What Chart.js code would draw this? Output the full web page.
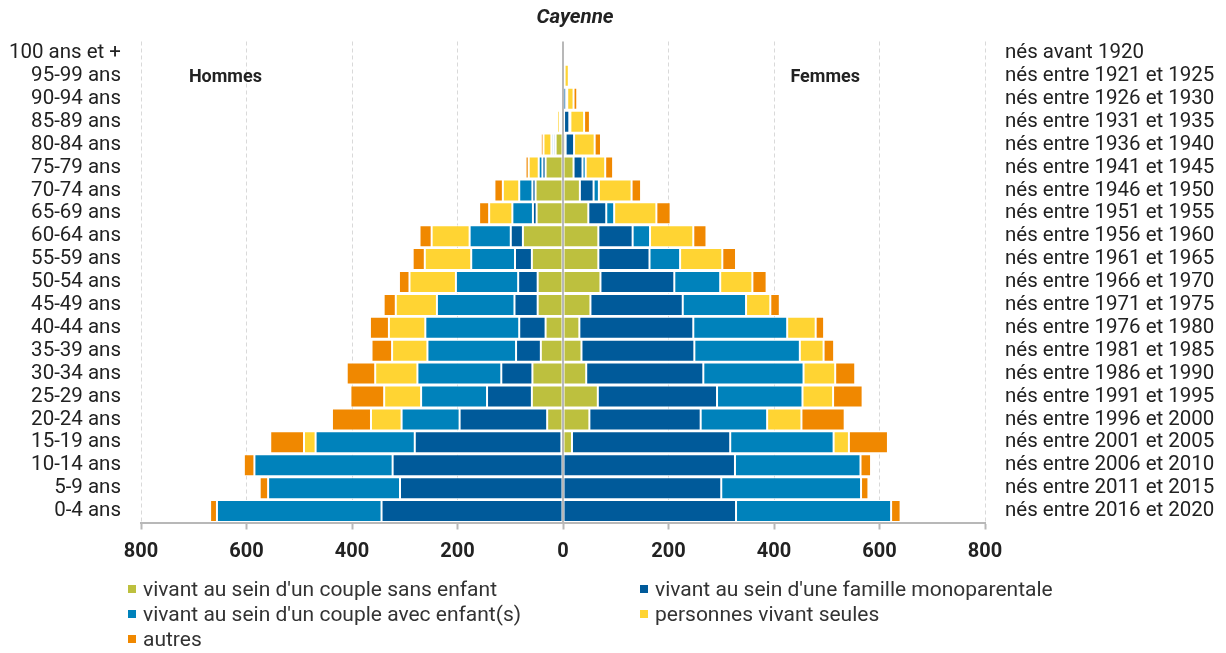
<!DOCTYPE html>
<html lang="fr">
<head>
<meta charset="utf-8">
<title>Cayenne</title>
<script src="https://cdn.jsdelivr.net/npm/chart.js@4.4.1/dist/chart.umd.min.js"></script>
<style>
  body { margin: 0; background: #fff; font-family: Roboto, sans-serif; }
  #wrap { position: relative; width: 1226px; height: 653px; }
  #legend {
    position: absolute; left: 128px; top: 576px;
    display: grid; grid-template-columns: 512px auto;
    font-size: 21px; color: #333;
  }
  .item { display: flex; align-items: center; height: 25px; white-space: nowrap; }
  .sw { width: 8px; height: 8px; margin-right: 7px; flex: none; }
</style>
</head>
<body>
<div id="wrap">
  <canvas id="pyramid" width="1226" height="653"></canvas>
  <div id="legend"></div>
</div>
<script>
const ages = ["100 ans et +", "95-99 ans", "90-94 ans", "85-89 ans", "80-84 ans", "75-79 ans",
  "70-74 ans", "65-69 ans", "60-64 ans", "55-59 ans", "50-54 ans", "45-49 ans", "40-44 ans",
  "35-39 ans", "30-34 ans", "25-29 ans", "20-24 ans", "15-19 ans", "10-14 ans", "5-9 ans", "0-4 ans"];
const births = ["nés avant 1920", "nés entre 1921 et 1925", "nés entre 1926 et 1930",
  "nés entre 1931 et 1935", "nés entre 1936 et 1940", "nés entre 1941 et 1945",
  "nés entre 1946 et 1950", "nés entre 1951 et 1955", "nés entre 1956 et 1960",
  "nés entre 1961 et 1965", "nés entre 1966 et 1970", "nés entre 1971 et 1975",
  "nés entre 1976 et 1980", "nés entre 1981 et 1985", "nés entre 1986 et 1990",
  "nés entre 1991 et 1995", "nés entre 1996 et 2000", "nés entre 2001 et 2005",
  "nés entre 2006 et 2010", "nés entre 2011 et 2015", "nés entre 2016 et 2020"];
const xTicks = [-800, -600, -400, -200, 0, 200, 400, 600, 800];

const seriesNames = ["vivant au sein d'un couple sans enfant", "vivant au sein d'une famille monoparentale",
  "vivant au sein d'un couple avec enfant(s)", "personnes vivant seules", "autres"];
const colors = ["#bdc03e", "#005a9a", "#0082bb", "#ffd433", "#f08800"];

// hommes (effectifs, dessinés à gauche)
const menCoupleNoChild = [0, 0, 0, 4, 14, 33, 52, 50, 76, 59, 48, 48, 33, 42, 58, 59, 30, 3, 0, 0, 0];
const menSingleParent = [0, 0, 0, 1, 4, 6, 6, 7, 23, 32, 37, 44, 50, 47, 59, 85, 166, 278, 323, 309, 344];
const menCoupleChildren = [0, 0, 0, 1, 4, 7, 25, 39, 78, 83, 118, 147, 178, 168, 159, 125, 110, 188, 262, 250, 312];
const menAlone = [0, 0, 0, 5, 15, 19, 31, 44, 72, 88, 88, 78, 69, 67, 80, 70, 58, 22, 0, 0, 0];
const menOther = [0, 0, 0, 0, 5, 6, 16, 19, 23, 23, 20, 23, 36, 39, 54, 64, 74, 64, 20, 16, 13];

// femmes
const womenCoupleNoChild = [0, 3, 0, 2, 5, 20, 32, 48, 67, 67, 71, 52, 31, 35, 44, 66, 50, 17, 0, 0, 0];
const womenSingleParent = [0, 0, 6, 10, 16, 17, 26, 34, 65, 97, 140, 175, 216, 214, 222, 226, 211, 300, 326, 300, 328];
const womenCoupleChildren = [0, 0, 2, 2, 0, 6, 10, 15, 33, 58, 87, 120, 178, 200, 190, 162, 126, 196, 238, 265, 294];
const womenAlone = [0, 8, 12, 26, 39, 37, 62, 80, 82, 80, 61, 46, 54, 45, 60, 58, 65, 29, 0, 0, 0];
const womenOther = [0, 3, 7, 11, 12, 15, 18, 27, 25, 26, 27, 18, 16, 20, 38, 56, 82, 74, 20, 14, 18];

const menSeries = [menCoupleNoChild, menSingleParent, menCoupleChildren, menAlone, menOther];
const womenSeries = [womenCoupleNoChild, womenSingleParent, womenCoupleChildren, womenAlone, womenOther];

const barStyle = {
  stack: "pyramide",
  borderColor: "#fff",
  borderWidth: 1,
  borderSkipped: false,
  barPercentage: 0.96,
  categoryPercentage: 1
};

const datasets = [];
menSeries.forEach((values, i) => {
  datasets.push({ label: seriesNames[i], data: values.map(v => -v), backgroundColor: colors[i], ...barStyle });
});
womenSeries.forEach((values, i) => {
  datasets.push({ label: seriesNames[i], data: values, backgroundColor: colors[i], ...barStyle });
});

// ligne du zéro par-dessus les barres + libellés Hommes / Femmes + titre
const overlay = {
  id: "overlay",
  afterDatasetsDraw(chart) {
    const { ctx, chartArea, scales } = chart;
    const x0 = scales.x.getPixelForValue(0);
    ctx.save();
    ctx.strokeStyle = "#b8b8b8";
    ctx.lineWidth = 2;
    ctx.beginPath();
    ctx.moveTo(x0, chartArea.top);
    ctx.lineTo(x0, chartArea.bottom);
    ctx.stroke();

    ctx.fillStyle = "#222";
    ctx.textAlign = "center";
    ctx.textBaseline = "middle";
    ctx.font = "bold 18px Roboto";
    const ySide = scales.y.getPixelForValue(1) + 2;
    ctx.fillText("Hommes", scales.x.getPixelForValue(-640), ySide);
    ctx.fillText("Femmes", scales.x.getPixelForValue(497), ySide);
    ctx.font = "italic bold 20.5px Roboto";
    ctx.fillText("Cayenne", 575, 18);
    ctx.restore();
  }
};

const chart = new Chart(document.getElementById("pyramid"), {
  type: "bar",
  data: { labels: ages, datasets: datasets },
  plugins: [overlay],
  options: {
    indexAxis: "y",
    responsive: false,
    animation: false,
    layout: { padding: { top: 41.5, left: 0, right: 0, bottom: 0 } },
    plugins: {
      legend: { display: false },
      title: { display: false },
      tooltip: { enabled: false }
    },
    scales: {
      x: {
        stacked: true,
        min: -800,
        max: 800,
        afterBuildTicks: scale => { scale.ticks = xTicks.map(v => ({ value: v })); },
        afterFit: scale => { scale.height = 130.5; },
        grid: {
          color: ctx => (ctx.tick && ctx.tick.value === 0 ? "rgba(0,0,0,0)" : "#d9d9d9"),
          lineWidth: 1,
          tickLength: 7,
          tickColor: "#b8b8b8",
          tickWidth: 2,
          tickBorderDash: []
        },
        border: { display: true, color: "#b8b8b8", width: 2, dash: [4, 3] },
        ticks: {
          callback: v => Math.abs(v),
          color: "#222",
          padding: 10,
          font: { family: "Roboto", size: 20, weight: "bold" }
        }
      },
      y: {
        stacked: true,
        offset: true,
        afterFit: scale => { scale.width = 141; },
        grid: { display: false },
        border: { display: false },
        ticks: {
          autoSkip: false,
          padding: 12,
          color: "#222",
          font: { family: "Roboto", size: 20.5 }
        }
      },
      y2: {
        type: "category",
        labels: births,
        position: "right",
        offset: true,
        afterFit: scale => { scale.width = 241; },
        grid: { display: false },
        border: { display: false },
        ticks: {
          autoSkip: false,
          padding: 12,
          color: "#222",
          font: { family: "Roboto", size: 20.5 }
        }
      }
    }
  }
});

// légende HTML sur deux colonnes
const legend = document.getElementById("legend");
seriesNames.forEach((name, i) => {
  const item = document.createElement("div");
  item.className = "item";
  const sw = document.createElement("span");
  sw.className = "sw";
  sw.style.background = colors[i];
  item.appendChild(sw);
  item.appendChild(document.createTextNode(name));
  legend.appendChild(item);
});
</script>
</body>
</html>
